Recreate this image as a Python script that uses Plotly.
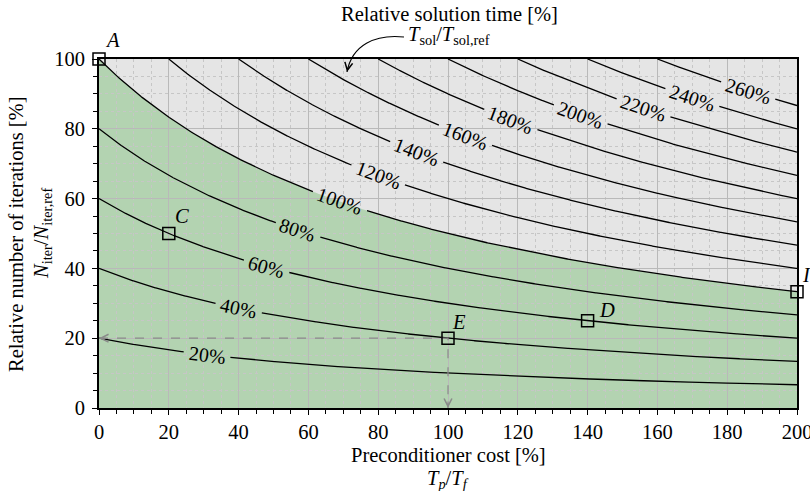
import numpy as np
import plotly.graph_objects as go

# ---------------- data ----------------
levels = [20, 40, 60, 80, 100, 120, 140, 160, 180, 200, 220, 240, 260]   # T_sol/T_sol,ref [%]
label_x = [31, 40, 48, 57, 69, 80, 91, 105, 118, 138, 156, 170, 186]      # where each label sits (x)
point_names = ["A", "C", "D", "E", "I"]
point_x = [0, 20, 140, 100, 200]
point_y = [100, 50, 25, 20, 33.33]
name_shift_x = [13, 13, 19, 11, 9]
name_shift_y = [19, 18, 11, 16, 17]
x_ticks = list(range(0, 201, 20))
y_ticks = list(range(0, 101, 20))

FONT = "Liberation Serif"
FS = 20.5
FS_LAB = 20
GREEN = "#b3d3b1"
GREY_BG = "#e5e5e5"

# plot geometry (pixels)
L, R, T, B = 99, 13, 59, 83
W, H = 810, 491
PW = W - L - R
PH = H - T - B
px_per_x = PW / 200.0
px_per_y = PH / 100.0


def paper(px, py):
    return (px - L) / PW, (H - B - py) / PH


def curve(level, xs):
    return level / (1.0 + xs / 100.0)


fig = go.Figure()

# green region (time below the reference) drawn under the grid
xs_fill = np.linspace(0, 200, 401)
ys_fill = curve(100, xs_fill)
path = "M 0,0 " + " ".join(f"L {x:.3f},{y:.3f}" for x, y in zip(xs_fill, ys_fill)) + " L 200,0 Z"
fig.add_shape(type="path", path=path, xref="x", yref="y", fillcolor=GREEN,
              line=dict(width=0), layer="below")

# iso-time lines with gaps for labels
annotations = []
for lev, lx in zip(levels, label_x):
    x0 = max(0.0, lev - 100.0)
    xs = np.linspace(x0, 200, 1600)
    ys = curve(lev, xs)
    ly = curve(lev, lx)
    txt = f"{lev}%"
    ndig = len(str(lev))
    half_w = (ndig * 0.5 + 0.833) * FS_LAB / 2.0 + 5.0
    dx = (xs - lx) * px_per_x
    dy = (ys - ly) * px_per_y
    dist = np.hypot(dx, dy)
    ys_plot = np.where(dist < half_w, np.nan, ys)
    fig.add_trace(go.Scatter(x=xs, y=ys_plot, mode="lines",
                             line=dict(color="black", width=1.3),
                             hoverinfo="skip", showlegend=False))
    slope = lev / 100.0 / (1.0 + lx / 100.0) ** 2 * (px_per_y / px_per_x)
    ang = np.degrees(np.arctan(slope))
    annotations.append(dict(x=lx, y=ly, xref="x", yref="y", text=txt, showarrow=False,
                            textangle=ang, xanchor="center", yanchor="middle",
                            font=dict(family=FONT, size=FS_LAB, color="black")))

# dashed guides from E to the axes
ex, ey = point_x[3], point_y[3]
fig.add_trace(go.Scatter(x=[0, ex, ex], y=[ey, ey, 0], mode="lines",
                         line=dict(color="#8a8a8a", width=1.2, dash="dash"),
                         hoverinfo="skip", showlegend=False, cliponaxis=False))
annotations.append(dict(x=0, y=ey, xref="x", yref="y", text="", showarrow=True,
                        ax=8, ay=0, arrowhead=5, arrowsize=1.4, arrowwidth=1.1,
                        arrowcolor="#8a8a8a"))
annotations.append(dict(x=ex, y=0, xref="x", yref="y", text="", showarrow=True,
                        ax=0, ay=-8, arrowhead=5, arrowsize=1.4, arrowwidth=1.1,
                        arrowcolor="#8a8a8a"))

# marked points
fig.add_trace(go.Scatter(x=point_x, y=point_y, mode="markers",
                         marker=dict(symbol="square-open", size=12,
                                     line=dict(color="black", width=1.5), color="black"),
                         hoverinfo="skip", showlegend=False, cliponaxis=False))
for n, x, y, sx, sy in zip(point_names, point_x, point_y, name_shift_x, name_shift_y):
    annotations.append(dict(x=x, y=y, xref="x", yref="y", text=f"<i>{n}</i>",
                            showarrow=False, xshift=sx, yshift=sy,
                            xanchor="center", yanchor="middle",
                            font=dict(family=FONT, size=FS, color="black")))

# titles
def add_text(px, py, text, angle=0, xanchor="center"):
    xp, yp = paper(px, py)
    annotations.append(dict(x=xp, y=yp, xref="paper", yref="paper", text=text,
                            showarrow=False, textangle=angle, xanchor=xanchor,
                            yanchor="middle",
                            font=dict(family=FONT, size=FS, color="black")))

add_text(449, 14, "Relative solution time [%]")
add_text(406, 36, "<i>T</i><sub>sol</sub>/<i>T</i><sub>sol,ref</sub>", xanchor="left")
add_text(448, 455, "Preconditioner cost [%]")
add_text(448, 479, "<i>T</i><sub><i>p</i></sub>/<i>T</i><sub><i>f</i></sub>")
add_text(16, 234, "Relative number of iterations [%]", angle=-90)
add_text(42, 234, "<i>N</i><sub>iter</sub>/<i>N</i><sub>iter,ref</sub>", angle=-90)

# curved pointer arrow
p0 = paper(404, 37)
p1 = paper(375, 34)
p2 = paper(352, 45)
p3 = paper(347, 72)
fig.add_shape(type="path", xref="paper", yref="paper",
              path=f"M {p0[0]},{p0[1]} C {p1[0]},{p1[1]} {p2[0]},{p2[1]} {p3[0]},{p3[1]}",
              line=dict(color="black", width=1.1), layer="above")
annotations.append(dict(x=p3[0], y=p3[1], xref="paper", yref="paper", text="",
                        showarrow=True, ax=1.1, ay=-5.9, arrowhead=5, arrowsize=1.4,
                        arrowwidth=1.1, arrowcolor="black"))

axis_common = dict(
    showline=True, linecolor="black", linewidth=1.6, mirror=True,
    ticks="outside", ticklen=5, tickwidth=1.2, tickcolor="black",
    showgrid=True, gridcolor="#b9b9b9", gridwidth=1, zeroline=False,
    tickfont=dict(family=FONT, size=FS, color="black"),
    ticklabeloverflow="allow", automargin=False,
    minor=dict(dtick=5, ticks="outside", ticklen=4, tickwidth=1.1, tickcolor="black",
               showgrid=True, gridcolor="#c6c6c6", gridwidth=1, griddash="dot"),
)

fig.update_layout(
    width=W, height=H, autosize=False,
    margin=dict(l=L, r=R, t=T, b=B, autoexpand=False),
    paper_bgcolor="white", plot_bgcolor=GREY_BG,
    xaxis=dict(range=[0, 200], tickvals=x_ticks, **axis_common),
    yaxis=dict(range=[0, 100], tickvals=y_ticks, ticklabelstandoff=3, **axis_common),
    annotations=annotations,
    showlegend=False,
)

fig.write_html("out.html")
